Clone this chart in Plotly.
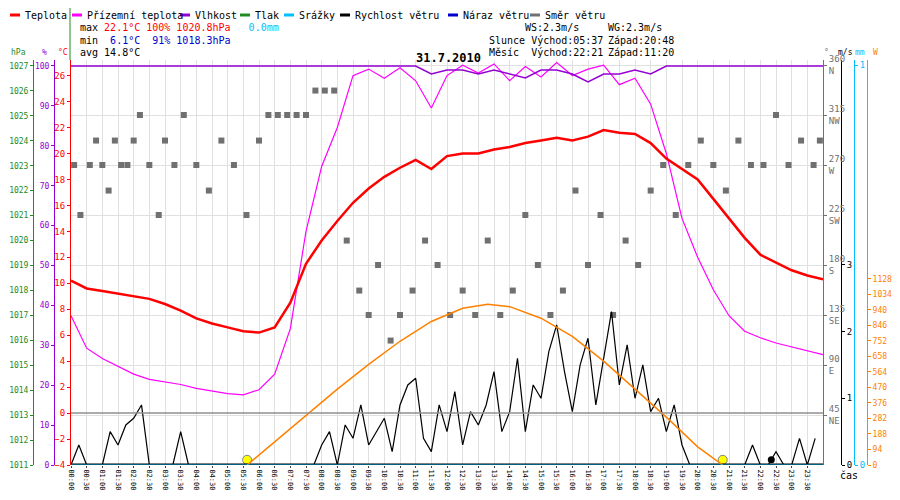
import plotly.graph_objects as go

hours = [0,0.5,1,1.5,2,2.5,3,3.5,4,4.5,5,5.5,6,6.5,7,7.5,8,8.5,9,9.5,10,10.5,11,11.5,12,12.5,13,13.5,14,14.5,15,15.5,16,16.5,17,17.5,18,18.5,19,19.5,20,20.5,21,21.5,22,22.5,23,23.5,24]
temp = [10.2,9.6,9.4,9.2,9.0,8.8,8.4,7.9,7.3,6.9,6.6,6.3,6.2,6.6,8.5,11.5,13.3,14.8,16.2,17.3,18.2,18.9,19.5,18.8,19.8,20.0,20.0,20.3,20.5,20.8,21.0,21.2,21.0,21.3,21.8,21.6,21.5,20.8,19.6,18.8,18.0,16.5,15.0,13.5,12.2,11.6,11.0,10.6,10.3]
appt = [7.5,5.0,4.2,3.6,3.0,2.6,2.4,2.2,1.9,1.7,1.5,1.4,1.8,3.0,6.5,14.0,19.0,22.0,26.0,26.5,25.8,26.6,25.6,23.5,26.0,26.8,26.2,26.9,25.6,26.7,25.9,27.0,26.0,26.5,26.8,25.3,25.8,23.8,20.0,15.0,12.0,9.5,7.5,6.3,5.8,5.4,5.1,4.8,4.5]
hum = [100,100,100,100,100,100,100,100,100,100,100,100,100,100,100,100,100,100,100,100,100,100,100,98,99,99,98,99,98,97,99,99,98,96,98,98,99,98,100,100,100,100,100,100,100,100,100,100,100]
wind_t = [i*0.25 for i in range(96)]
wind = [0,0.3,0,0, 0,0.5,0.3,0.6, 0.7,0.9,0,0, 0,0,0.5,0, 0,0,0,0, 0,0,0,0, 0,0,0,0, 0,0,0,0,
        0.3,0.5,0,0.6, 0.4,0.9,0.3,0.5, 0.7,0.2,0.9,1.2, 1.3,0.4,0.2,0.9, 0.5,1.1,0.3,0.8, 0.6,0.9,1.4,0.5,
        0.8,1.6,0.5,1.2, 1.0,1.7,2.1,1.4, 0.8,1.5,1.9,0.9, 1.6,2.3,1.2,1.8, 1.0,1.5,0.8,1.0, 0.5,0.9,0.3,0,
        0,0,0,0, 0,0,0,0.3, 0,0,0.2,0, 0,0.4,0,0.4]
dir_t = [0.1,0.3,0.6,0.8,1.0,1.2,1.4,1.6,1.8,2.0,2.2,2.5,2.8,3.0,3.3,3.6,4.0,4.4,4.8,5.2,5.6,6.0,6.3,6.6,6.9,7.2,7.5,7.8,8.1,8.4,8.8,9.2,9.5,9.8,10.2,10.5,10.9,11.3,11.7,12.1,12.5,12.9,13.3,13.7,14.1,14.5,14.9,15.3,15.7,16.1,16.5,16.9,17.3,17.7,18.1,18.5,18.9,19.3,19.7,20.1,20.5,20.9,21.3,21.7,22.1,22.5,22.9,23.3,23.7,23.9]
dir_v = [270,225,270,292,270,247,292,270,270,292,315,270,225,292,270,315,270,247,292,270,225,292,315,315,315,315,315,337,337,337,202,157,135,180,112,135,157,202,180,135,157,135,202,135,157,225,180,135,157,247,180,225,135,202,180,247,270,225,270,292,270,247,292,270,270,315,270,292,270,292]
sun_t = [5.62,6.5,7.5,8.5,9.5,10.5,11.5,12.5,13.3,14,15,16,17,18,19,20,20.8]
sun_v = [0,140,300,460,610,750,870,950,975,960,890,780,630,460,290,110,0]
x_ticks = [i*0.5 for i in range(48)]
x_labels = ["%02d:%02d" % (int(h), int(round((h % 1) * 60))) for h in x_ticks]

W, H, OFF = 884, 484, 8
def PX(x): return (x - OFF) / W
def PY(y): return 1 - (y - OFF) / H

F = "DejaVu Sans Mono"
fig = go.Figure()
fig.add_trace(go.Scatter(x=[None], y=[None], yaxis="y3", mode="lines", line=dict(color="#228b22")))
fig.add_trace(go.Scatter(x=sun_t, y=sun_v, yaxis="y6", mode="lines", line=dict(color="#ff8000", width=1.5)))
fig.add_trace(go.Scatter(x=dir_t, y=dir_v, yaxis="y4", mode="markers", marker=dict(symbol="square", size=6, color="#707070")))
fig.add_trace(go.Scatter(x=wind_t, y=wind, yaxis="y5", mode="lines", line=dict(color="black", width=1.2)))
fig.add_trace(go.Scatter(x=[0, 24], y=[0, 0], yaxis="y5", mode="lines", line=dict(color="black", width=3)))
fig.add_trace(go.Scatter(x=hours, y=hum, yaxis="y2", mode="lines", line=dict(color="#9400d3", width=1.5)))
fig.add_trace(go.Scatter(x=hours, y=appt, mode="lines", line=dict(color="#ff00ff", width=1.2)))
fig.add_trace(go.Scatter(x=hours, y=temp, mode="lines", line=dict(color="#ff0000", width=2.5)))
fig.add_trace(go.Scatter(x=[5.62, 20.8], y=[-3.6, -3.6], mode="markers", marker=dict(color="yellow", size=9, line=dict(color="#808080", width=1))))
fig.add_trace(go.Scatter(x=[22.35], y=[-3.6], mode="markers", marker=dict(color="black", size=7)))

xd = [PX(71), PX(823)]
yd = [PY(465), PY(60)]
def ax(rng, color, pos, side, tv, tt=None, grid=False, fs=9):
    d = dict(range=rng, domain=yd, showgrid=grid, gridcolor="#e0e0e0", zeroline=False, linecolor=color, showline=True,
             tickfont=dict(family=F, size=fs, color=color), ticks="outside", ticklen=3, tickcolor=color,
             tickvals=tv, side=side, fixedrange=True, automargin=False)
    if tt: d["ticktext"] = tt
    if pos is not None:
        d.update(anchor="free", position=pos, overlaying="y")
    return d

fig.update_layout(
    width=W, height=H, margin=dict(l=0, r=0, t=0, b=0, autoexpand=False), showlegend=False,
    plot_bgcolor="white", paper_bgcolor="white",
    xaxis=dict(domain=xd, range=[0, 24], tickvals=x_ticks, ticktext=x_labels, tickangle=90, automargin=False,
               tickfont=dict(family=F, size=7, color="black"), showgrid=True, gridcolor="#e0e0e0",
               zeroline=False, showline=False, ticks="outside", ticklen=2),
    yaxis=ax([-4, 27.2], "red", None, "left", list(range(-4, 27, 2))),
    yaxis2=ax([0, 101.5], "#9400d3", PX(54), "left", list(range(0, 101, 10)), fs=8),
    yaxis3=ax([1011, 1027.24], "#228b22", PX(33), "left", list(range(1011, 1028)), fs=8),
    yaxis4=ax([0, 364.5], "#707070", PX(823), "right", [45, 90, 135, 180, 225, 270, 315, 360],
              ["45<br>NE", "90<br>E", "135<br>SE", "180<br>S", "225<br>SW", "270<br>W", "315<br>NW", "360<br>N"], grid=True),
    yaxis5=ax([0, 6.07], "black", PX(841), "right", [0, 1, 2, 3]),
    yaxis6=ax([0, 2455], "#ff8000", PX(867), "right", list(range(0, 1129, 94)), fs=8),
    yaxis7=ax([0, 1.0125], "#00bfff", PX(854), "right", [0, 1]),
)
fig.add_trace(go.Scatter(x=[0, 24], y=[0, 0], yaxis="y7", mode="lines", line=dict(color="#00bfff", width=1)))
fig.add_shape(type="line", xref="x", yref="y", x0=0, x1=24, y0=0, y1=0, line=dict(color="#909090", width=1.5))

leg = [("Teplota", "red", 10), ("Přízemní teplota", "#ff00ff", 72), ("Vlhkost", "#9400d3", 180), ("Tlak", "#228b22", 240),
       ("Srážky", "#00bfff", 284), ("Rychlost větru", "black", 340), ("Náraz větru", "#0000cd", 448), ("Směr větru", "#707070", 530)]
for name, c, x0 in leg:
    fig.add_shape(type="line", xref="paper", yref="paper", x0=PX(x0), x1=PX(x0+10), y0=PY(15), y1=PY(15), line=dict(color=c, width=3))
    fig.add_annotation(x=PX(x0+13), y=PY(15), xref="paper", yref="paper", text=name, showarrow=False, xanchor="left",
                       yanchor="middle", font=dict(family=F, size=10, color="black"))
fig.add_shape(type="line", xref="paper", yref="paper", x0=PX(70), x1=PX(70), y0=1, y1=PY(60), line=dict(color="#228b22", width=1))
def txt(x, y, t, c="black", size=10, anchor="left"):
    fig.add_annotation(x=PX(x), y=PY(y), xref="paper", yref="paper", text=t, showarrow=False, xanchor=anchor,
                       yanchor="middle", font=dict(family=F, size=size, color=c))
stats = [(27, [("max ", "black"), ("22.1°C ", "red"), ("100% ", "red"), ("1020.8hPa ", "red"), ("  0.0mm", "#00bfff")]),
         (40, [("min  ", "black"), ("6.1°C ", "#0000cd"), (" 91% ", "#0000cd"), ("1018.3hPa", "#0000cd")]),
         (53, [("avg 14.8°C", "black")])]
for y, parts in stats:
    t = "".join('<span style="color:%s">%s</span>' % (c, s.replace(" ", "&nbsp;")) for s, c in parts)
    txt(78, y, t)
txt(523, 27, "WS:2.3m/s")
txt(606, 27, "WG:2.3m/s")
txt(487, 40, "Slunce Východ:05:37")
txt(606, 40, "Západ:20:48")
txt(487, 53, "Měsíc  Východ:22:21")
txt(606, 53, "Západ:11:20")
txt(448, 58, "<b>31.7.2010</b>", size=12, anchor="center")
for x, t, c in [(18, "hPa", "#228b22"), (44, "%", "#9400d3"), (63, "°C", "red"), (826, "°", "#707070"), (845, "m/s", "black"),
                (860, "mm", "#00bfff"), (875, "W", "#ff8000")]:
    txt(x, 52, t, c, size=8, anchor="center")
txt(838, 475, "čas")
fig.write_html("out.html")
